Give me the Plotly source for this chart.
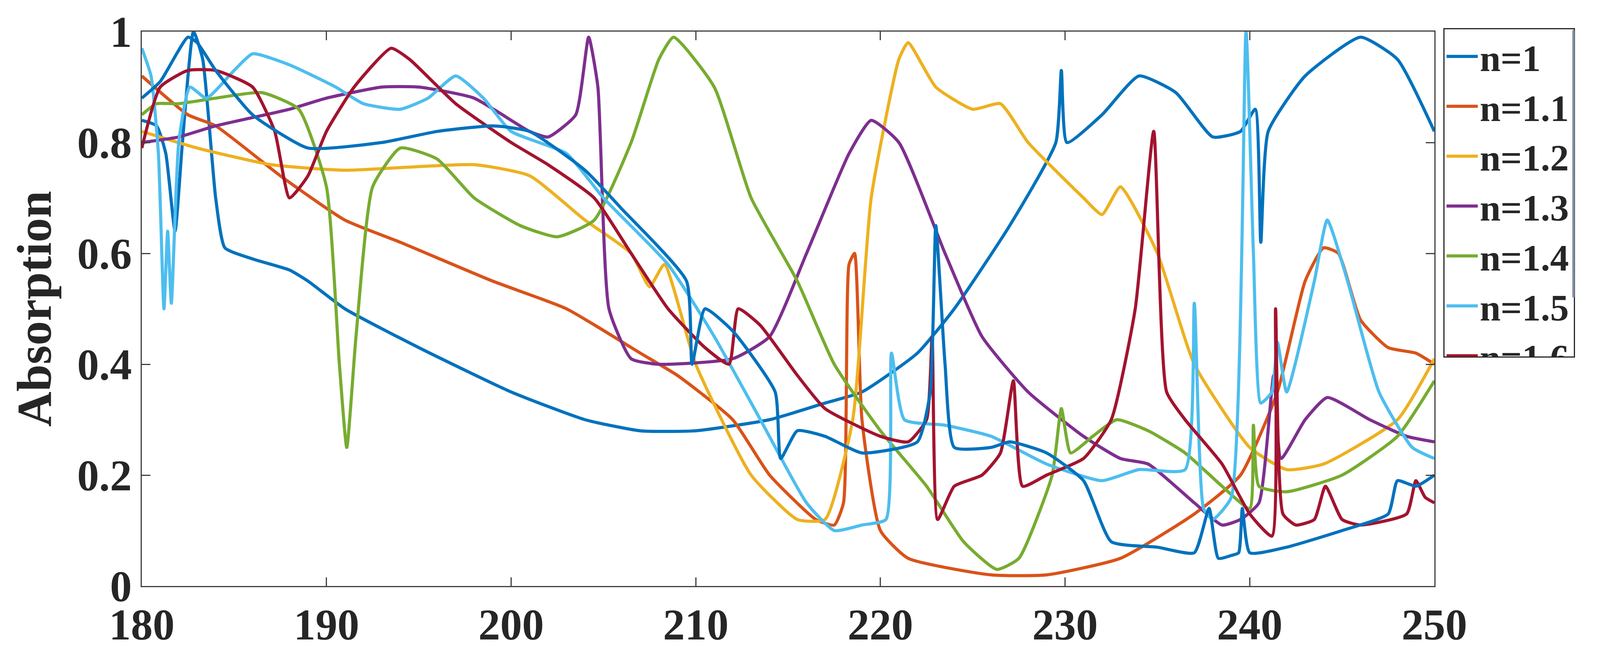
import plotly.graph_objects as go

x1 = [180,180.8,181.3,181.8,182.2,182.8,183.3,184,184.5,186,188,189,191,195,200,204,207,210,214,217,219,222,224,227,229.5,229.8,230.1,232,234,236,238,239.5,240.3,240.6,241,243,246,248,250]
y1 = [0.84,0.83,0.78,0.64,0.8,1.0,0.95,0.7,0.61,0.59,0.57,0.55,0.5,0.43,0.35,0.3,0.28,0.28,0.3,0.33,0.35,0.42,0.5,0.65,0.8,0.93,0.8,0.85,0.92,0.89,0.81,0.82,0.86,0.62,0.82,0.92,0.99,0.95,0.82]

x11 = [180,182.5,184,187.5,191,194,199,203,207,209,212,214,216.5,217.5,218,218.3,218.6,219,220,221.5,226,229,233,237,239.5,241.5,243,244,244.8,246,247.5,249,250]
y11 = [0.92,0.85,0.83,0.74,0.66,0.62,0.55,0.5,0.42,0.38,0.3,0.2,0.12,0.11,0.15,0.58,0.6,0.3,0.1,0.05,0.02,0.02,0.05,0.13,0.2,0.35,0.55,0.61,0.6,0.48,0.43,0.42,0.4]

x12 = [180,183,187,191,198,201,204,206.5,207.5,208.3,210,213,215.5,217,218.5,219.5,221,221.5,223,225,226.5,228,231,232,233,235,237,240,242,244,248,250]
y12 = [0.82,0.79,0.76,0.75,0.76,0.74,0.66,0.6,0.54,0.58,0.4,0.2,0.12,0.12,0.3,0.7,0.95,0.98,0.9,0.86,0.87,0.8,0.7,0.67,0.72,0.6,0.4,0.25,0.21,0.22,0.3,0.41]

x13 = [180,182,184,188,190,193,195,198,201,202,203.5,204.2,204.7,205.3,206.5,208,212,214,216,218.3,219.5,221,223.5,225.5,228,231,233,234.5,237,238.5,239.5,240.5,241.3,241.7,243,244.2,246.5,248.5,250]
y13 = [0.8,0.81,0.83,0.86,0.88,0.9,0.9,0.88,0.82,0.81,0.85,0.99,0.9,0.5,0.41,0.4,0.41,0.45,0.6,0.78,0.84,0.8,0.6,0.45,0.35,0.27,0.23,0.22,0.15,0.11,0.12,0.15,0.38,0.23,0.3,0.34,0.3,0.27,0.26]

x14 = [180,180.8,182,184,186.5,188.5,190,190.7,191.1,191.6,192.5,194,196,198,200.5,202.5,204.5,206.5,208,208.8,211,213,215.5,217.5,220,222.5,224.5,226.3,227.5,229.3,229.8,230.3,231.5,232.8,234.5,236.5,238.5,240,240.2,240.5,242,245,248,250]
y14 = [0.85,0.87,0.87,0.88,0.89,0.86,0.72,0.4,0.25,0.45,0.72,0.79,0.77,0.7,0.65,0.63,0.66,0.8,0.95,0.99,0.9,0.7,0.55,0.4,0.28,0.18,0.08,0.03,0.05,0.2,0.32,0.24,0.27,0.3,0.28,0.24,0.18,0.14,0.29,0.18,0.17,0.2,0.27,0.37]

x15 = [180,180.5,180.9,181.2,181.4,181.6,182,182.6,183.5,185,186,188,190.5,192,194,195.5,197,198.5,200,203,205,208.5,211,213.5,216,217.5,219,220.3,220.6,221.3,223.5,226,229,232,234,236.5,237,237.5,238,239,239.8,240.2,240.6,241.2,241.5,242,243.5,244.2,245.3,247,248.8,250]
y15 = [0.97,0.92,0.78,0.5,0.64,0.51,0.8,0.9,0.88,0.93,0.96,0.94,0.9,0.87,0.86,0.88,0.92,0.88,0.82,0.78,0.7,0.58,0.45,0.3,0.15,0.1,0.11,0.12,0.42,0.3,0.29,0.27,0.22,0.19,0.21,0.21,0.51,0.14,0.12,0.16,1.0,0.6,0.33,0.35,0.44,0.35,0.55,0.66,0.55,0.35,0.25,0.23]

x16 = [180,181,182.5,184,186,187.2,188,189,190,191.5,193.5,194.5,197,200,202,204.5,206.5,208.5,210.5,211.8,212.3,213.5,215.5,217,220,221.5,222.5,222.8,223.1,224,225.5,226.5,227.2,227.7,229,231,232.5,233.8,234.8,235.5,236.5,238.5,240,241.2,241.4,241.8,242.5,243.5,244.1,245,246,248.5,249,249.5,250]
y16 = [0.79,0.9,0.93,0.93,0.9,0.82,0.7,0.74,0.82,0.9,0.97,0.95,0.87,0.8,0.76,0.7,0.6,0.5,0.43,0.4,0.5,0.47,0.38,0.32,0.27,0.26,0.3,0.45,0.12,0.18,0.2,0.24,0.37,0.18,0.2,0.23,0.3,0.5,0.82,0.35,0.3,0.22,0.13,0.09,0.5,0.13,0.11,0.12,0.18,0.12,0.11,0.13,0.19,0.16,0.15]

x17 = [180,181,182.5,183,184,186,189,193,196,199,201,204,206,209.5,209.8,210.5,212,214.3,214.6,215.5,217,219,222,222.7,223,223.5,224,226,227,229,231,232.5,235,237,237.8,238.3,239,239.4,239.6,240,242,245,247.5,248,249,250]
y17 = [0.88,0.91,0.99,0.98,0.93,0.85,0.79,0.8,0.82,0.83,0.82,0.75,0.68,0.55,0.4,0.5,0.46,0.35,0.23,0.28,0.27,0.24,0.26,0.35,0.65,0.4,0.25,0.25,0.26,0.24,0.19,0.08,0.07,0.06,0.14,0.05,0.055,0.06,0.14,0.06,0.07,0.1,0.13,0.19,0.18,0.2]

series = [("n=1",x1,y1,"#0072BD"),("n=1.1",x11,y11,"#D95319"),("n=1.2",x12,y12,"#EDB120"),
          ("n=1.3",x13,y13,"#7E2F8E"),("n=1.4",x14,y14,"#77AC30"),("n=1.5",x15,y15,"#4DBEEE"),
          ("n=1.6",x16,y16,"#A2142F"),("n=1.7",x17,y17,"#0072BD")]

fig = go.Figure()
for name,x,y,c in series:
    fig.add_trace(go.Scatter(x=x,y=y,name="<b>"+name+"</b>",mode="lines",line=dict(color=c,width=8,shape="spline",smoothing=0.5)))

ax = dict(showgrid=False, zeroline=False, showline=True, linecolor="#404040", linewidth=3, mirror="ticks",
          ticks="inside", ticklen=22, tickwidth=3, tickcolor="#404040", tickfont=dict(family="Liberation Serif", size=112, color="#262626"))
fig.update_layout(width=4128, height=1688, plot_bgcolor="white", paper_bgcolor="white",
    margin=dict(l=355, r=464, t=73, b=195),
    xaxis=dict(range=[180,250], dtick=10, **ax),
    yaxis=dict(range=[0,1], dtick=0.2, title=dict(text="<b>Absorption</b>", font=dict(family="Liberation Serif", size=125, color="#262626"), standoff=25), **ax),
    legend=dict(x=1.007, y=1.006, xanchor="left", yanchor="top", bordercolor="#262626", borderwidth=3,
                font=dict(family="Liberation Serif", size=96, color="#262626"), itemwidth=80, tracegroupgap=0),
    font=dict(family="Liberation Serif", color="#262626"))
fig.update_xaxes(tickprefix="<b>", ticksuffix="</b>")
fig.update_yaxes(tickprefix="<b>", ticksuffix="</b>", tickformat="~g")
fig.write_html("out.html")
